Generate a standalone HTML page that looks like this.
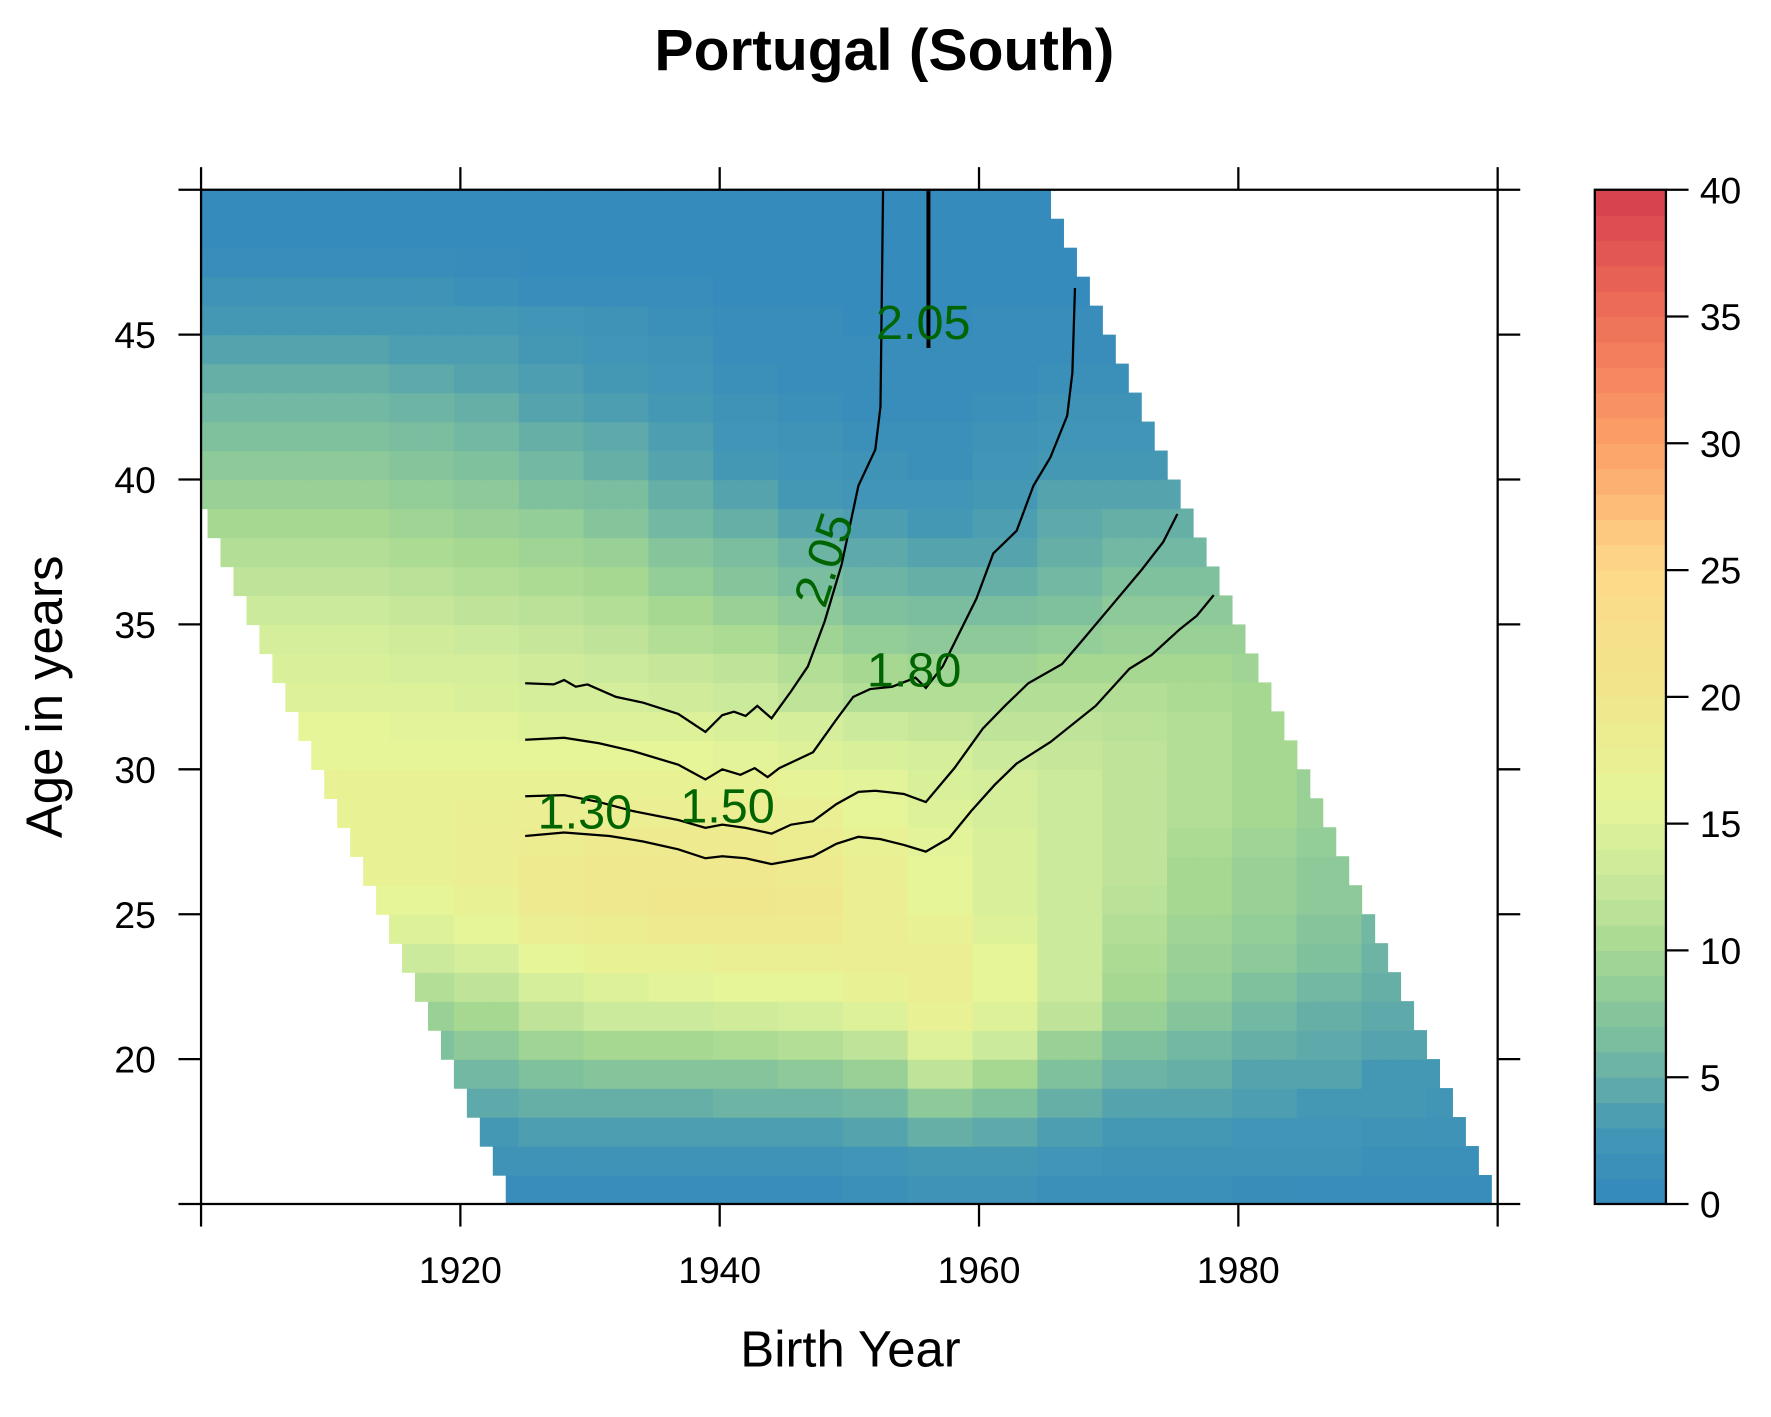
<!DOCTYPE html>
<html><head><meta charset="utf-8"><style>
html,body{margin:0;padding:0;background:#fff;}
svg{display:block;font-family:"Liberation Sans",Arial,sans-serif;}
</style></head><body>
<svg id="chart" width="1771" height="1417" viewBox="0 0 1568 1254.6" xmlns="http://www.w3.org/2000/svg">
<text x="783" y="62" text-anchor="middle" font-size="52" font-weight="bold">Portugal (South)</text>
<g id="cells"></g>
<g id="contours"></g>
<g id="axes"></g>
<g id="cbar"></g>
<text x="753" y="1210" text-anchor="middle" font-size="45">Birth Year</text>
<text transform="translate(55,617) rotate(-90)" text-anchor="middle" font-size="45">Age in years</text>
</svg>
<script>
const cohortCols = [1900,1905,1910,1915,1920,1925,1930,1935,1940,1945,1950,1955,1960,1965,1970,1975,1980,1985,1990,1995];
const ages = [15,16,17,18,19,20,21,22,23,24,25,26,27,28,29,30,31,32,33,34,35,36,37,38,39,40,41,42,43,44,45,46,47,48,49];
const rates = [
[1,1,1,1,1,1,1,1,1,1,1.5,2,2,1.5,1.5,1.5,1.2,1,1,1],
[2,2,2,2,2,2,2,2,2,2,2.5,3,3,2.5,2,2,2,2,1.5,1.5],
[3,3,3,3,3,3.5,3.5,3.5,3.5,3.5,4,5,4.5,3.5,3,3,2.5,2.5,2,2],
[4,4,4,4,4.5,5,5,5,5.5,5.5,6,8,7,5,4,4,3.5,3,3,2.5],
[5,5,5,5,6,7,7.5,7.5,7.5,8,9,12,10,7,5.5,5,4,4,3,3],
[7,7,7,7,8,9.5,10,10,10.5,11,12,15,13,9,7,6,5,4.5,4,3.5],
[9,9,9,9,10,12,13,13,13.5,14,15,17,15,12,9,7.5,6,5,4.5,4],
[11,11,11,11,12,14,15,15.5,16,16,17,18,16,13,10,8.5,7,6,5,4.5],
[13,13,13,13,14,16,17,17,17.5,17.5,18,18,16,13,10.5,9,8,7,5.5,5],
[15,15,15,15,16,18,18.5,19,19,19,18,17,15,13,11,9.5,8.5,7.5,6,5],
[16,16,16,16,17,19,19.5,20,20,19.5,18,16,14.5,13,11.5,10,9,8,6.5,5.5],
[17,17,17,17,18,19,19.5,19.5,19.5,19,17.5,16,14.5,13,12,10,9,8,7,6],
[17,17,17,17,18,18.5,19,19,19,18.5,17,15.5,14.5,13,12,10.5,9.5,8.5,7,6],
[17,17,17,17,17.5,18,18,18,18,17.5,16,15,14,13,12,11,10,9,7.5,6.5],
[17,17,17,17,17,17,17,17,17,16.5,15.5,14.5,14,13,12,11,10,9,8,7],
[16,16,16,16,16,16,16,16,15.5,15,14.5,14,13,12.5,12,11,10,9,8,7],
[16,16,16,15.5,15.5,15,15,15,14.5,14,13,12.5,12,12,11.5,11,10,9,8,7],
[15,15,15,15,14.5,14,14,13.5,13,12,11,11,11,11,11,10.5,10,9,8,7],
[14.5,14.5,14.5,14,14,13.5,13,12.5,12,11,10,9.5,9.5,10,10,10,9.5,9,8,7],
[14,14,14,13.5,13,12.5,12,11,10.5,9.5,8.5,8,8,8.5,9,9,9,8,7,6],
[13,13,13,12.5,12,11.5,11,10,9,8,7,6.5,6.5,7,8,8,8,7,6,5],
[12,12,12,11.5,11,10.5,10,8.5,7.5,6.5,5.5,5,5,6,7,7,7,6,5,5],
[11,11,11,10.5,10,9.5,9,7.5,6.5,5.5,4.5,4,4,5,6,6,6,5,5,5],
[10,10,10,9.5,9,8.5,7.5,6,5,4,3.5,3,3.5,4.5,5,5,5,5,5,5],
[9,9,9,8.5,8,7,6.5,5,4,3,2.5,2.5,3,4,4,4,4,4,4,4],
[8,8,8,7.5,7,6,5,4,3,2.5,2,1.5,2.5,3,3,3,3,3,3,3],
[7,7,7,6.5,6,5,4.5,3.5,2.5,2,1.5,1.5,2,2.5,2.5,2.5,2.5,2,2,2],
[6,6,6,5.5,5,4,3.5,3,2,1.5,1,1,1.5,2,2,2,2,2,2,2],
[5,5,5,4.5,4,3.5,3,2.5,1.5,1,1,1,1,1.5,1.5,1.5,1.5,1.5,1.5,1.5],
[4,4,4,3.5,3.5,3,2.5,2,1,1,1,1,1,1,1,1,1,1,1,1],
[3,3,3,3,3,2.5,2,1.5,1,1,0.5,0.5,1,1,1,1,1,1,1,1],
[2,2,2,2,1.5,1,1,1,0.5,0.5,0.5,0.5,0.5,0.5,0.5,0.5,0.5,0.5,0.5,0.5],
[1,1,1,1,0.8,0.5,0.5,0.5,0.5,0.5,0.5,0.5,0.5,0.5,0.5,0.5,0.5,0.5,0.5,0.5],
[0.5,0.5,0.5,0.5,0.5,0.5,0.5,0.5,0.5,0.5,0.5,0.5,0.5,0.5,0.5,0.5,0.5,0.5,0.5,0.5],
[0.5,0.5,0.5,0.5,0.5,0.5,0.5,0.5,0.5,0.5,0.5,0.5,0.5,0.5,0.5,0.5,0.5,0.5,0.5,0.5]
];
const periodFirst = 1939, periodLast = 2014;
const xTicks = [1900,1920,1940,1960,1980,2000];
const xTickLabels = ["","1920","1940","1960","1980",""];
const yTicks = [15,20,25,30,35,40,45,50];
const yTickLabels = ["","20","25","30","35","40","45",""];
const cbarTicks = [0,5,10,15,20,25,30,35,40];
const contourA = {c:[1925,1927.2,1928,1928.9,1929.8,1932,1934.1,1936.8,1938.9,1940.2,1941.1,1942,1942.9,1944,1945.5,1946.8,1948.1,1949.4,1950.7,1952,1952.4,1952.6],
 a:[32.97,32.93,33.08,32.85,32.93,32.5,32.3,31.91,31.29,31.87,31.99,31.84,32.19,31.76,32.69,33.55,35.11,37.06,39.79,41.03,42.51,50]};
const contourB = {c:[1925,1928,1930.7,1933.3,1936.8,1938.9,1940.2,1941.6,1942.7,1943.7,1944.6,1947.2,1949,1950.3,1951.6,1953.3,1955.1,1955.9,1957.2,1958.5,1959.8,1961.1,1962.9,1964.2,1965.5,1966.8,1967.2,1967.4],
 a:[31.02,31.09,30.9,30.63,30.16,29.65,30,29.81,30.04,29.73,30.04,30.59,31.72,32.5,32.77,32.85,33.16,32.81,33.55,34.72,35.89,37.45,38.23,39.79,40.76,42.2,43.68,46.61]};
const contourC = {c:[1925,1928,1930.7,1933.3,1936.8,1938.9,1940.2,1942,1944,1945.5,1947.2,1949,1950.7,1952,1954.2,1955.9,1958.1,1960.3,1962,1963.8,1966.4,1968.1,1970.3,1972.5,1974.2,1975.3],
 a:[29.07,29.11,28.87,28.56,28.25,27.98,28.09,27.98,27.78,28.09,28.21,28.8,29.22,29.26,29.15,28.87,30.04,31.41,32.19,32.97,33.63,34.52,35.69,36.86,37.84,38.81]};
const contourD = {c:[1925,1928,1931.5,1934.1,1936.8,1938.9,1940.2,1942,1944,1945.5,1947.2,1949,1950.7,1952.4,1954.2,1955.9,1957.7,1959.4,1961.2,1962.9,1965.5,1969,1971.6,1973.3,1975.5,1976.8,1978.1],
 a:[27.7,27.82,27.7,27.51,27.24,26.93,27,26.93,26.73,26.85,27,27.43,27.67,27.59,27.39,27.16,27.63,28.56,29.46,30.2,30.94,32.19,33.47,33.94,34.84,35.3,36.01]};
const contourE = {c:[1956.1,1956.1], a:[50,44.54]};
const contourLabels = [
 {t:"2.05",c:1955.7,a:45.3,rot:0},{t:"2.05",c:1948.3,a:37.2,rot:-72},
 {t:"1.80",c:1955,a:33.3,rot:0},{t:"1.30",c:1929.6,a:28.4,rot:0},{t:"1.50",c:1940.6,a:28.6,rot:0}];

const NS="http://www.w3.org/2000/svg";
const X0=178,X1=1326,Y0=1066,Y1=168;
const xs=c=>X0+(c-1900)/100*(X1-X0);
const ys=a=>Y0-(a-15)/35*(Y0-Y1);
const stops=[[0,[50,136,189]],[3,[68,152,180]],[5,[102,175,166]],[7,[128,193,157]],[10,[166,216,146]],[13,[204,234,156]],[16,[230,245,152]],[20,[240,230,140]],[25,[253,217,138]],[30,[252,160,104]],[35,[238,112,88]],[40,[213,62,79]]];
function col(v){v=Math.max(0,Math.min(40,v));for(let i=1;i<stops.length;i++){if(v<=stops[i][0]){const [v0,c0]=stops[i-1],[v1,c1]=stops[i];const t=(v-v0)/(v1-v0);return 'rgb('+c0.map((x,k)=>Math.round(x+(c1[k]-x)*t)).join(',')+')';}}return 'rgb(213,62,79)';}
function el(tag,attrs,parent){const e=document.createElementNS(NS,tag);for(const k in attrs)e.setAttribute(k,attrs[k]);parent.appendChild(e);return e;}

const cells=document.getElementById('cells');
for(let ai=0;ai<ages.length;ai++){const a=ages[ai];
 for(let c=1899;c<=2000;c++){const p=c+a;if(p<periodFirst||p>periodLast)continue;
  const ci=Math.max(0,Math.min(cohortCols.length-1,Math.floor((c-1900)/5)));
  const v=rates[ai][ci];
  const xa=Math.max(X0,xs(c-0.5)),xb=Math.min(X1,xs(c+0.5));if(xb<=xa)continue;
  const r=el('rect',{x:xa,y:ys(a+1),width:xb-xa+0.6,height:ys(a)-ys(a+1)+0.6,fill:col(v)},cells);
  
  
 }}
const cg=document.getElementById('contours');
[contourA,contourB,contourC,contourD].forEach(L=>{
 const p=el('polyline',{points:L.c.map((c,i)=>xs(c)+','+ys(L.a[i])).join(' '),fill:'none',stroke:'#000','stroke-width':2},cg);
 
 
});
const pe=el('polyline',{points:contourE.c.map((c,i)=>xs(c)+','+ys(contourE.a[i])).join(' '),fill:'none',stroke:'#000','stroke-width':3.5},cg);


contourLabels.forEach(l=>{const x=xs(l.c),y=ys(l.a);
 const t=el('text',{x:x,y:y,'text-anchor':'middle','dominant-baseline':'middle','font-size':43,fill:'#006400',transform:'rotate('+l.rot+' '+x+' '+y+')'},cg);t.textContent=l.t;
 
 
});
const ax=document.getElementById('axes');
el('rect',{x:X0,y:Y1,width:X1-X0,height:Y0-Y1,fill:'none',stroke:'#000','stroke-width':2},ax);
xTicks.forEach((v,i)=>{const x=xs(v);
 el('line',{x1:x,x2:x,y1:Y0,y2:Y0+20,stroke:'#000','stroke-width':2},ax);
 el('line',{x1:x,x2:x,y1:Y1,y2:Y1-20,stroke:'#000','stroke-width':2},ax);
 if(xTickLabels[i]){const t=el('text',{x:x,y:1136,'text-anchor':'middle','font-size':33},ax);t.textContent=xTickLabels[i];
 
 }
});
yTicks.forEach((v,i)=>{const y=ys(v);
 el('line',{x1:X0-20,x2:X0,y1:y,y2:y,stroke:'#000','stroke-width':2},ax);
 el('line',{x1:X1,x2:X1+20,y1:y,y2:y,stroke:'#000','stroke-width':2},ax);
 if(yTickLabels[i]){const t=el('text',{x:138,y:y+12,'text-anchor':'end','font-size':33},ax);t.textContent=yTickLabels[i];
 
 }
});
const cb=document.getElementById('cbar');
const CX0=1412,CX1=1475;
const cy=v=>Y0-v/40*(Y0-Y1);
for(let v=0;v<40;v++){el('rect',{x:CX0,y:cy(v+1),width:CX1-CX0,height:cy(v)-cy(v+1)+0.5,fill:col(v+0.5)},cb);}
el('rect',{x:CX0,y:Y1,width:CX1-CX0,height:Y0-Y1,fill:'none',stroke:'#000','stroke-width':2},cb);
cbarTicks.forEach(v=>{const y=cy(v);
 el('line',{x1:CX1,x2:CX1+20,y1:y,y2:y,stroke:'#000','stroke-width':2},cb);
 const t=el('text',{x:1505,y:y+12,'font-size':33},cb);t.textContent=v;
 
 
});
</script>
</body></html>
